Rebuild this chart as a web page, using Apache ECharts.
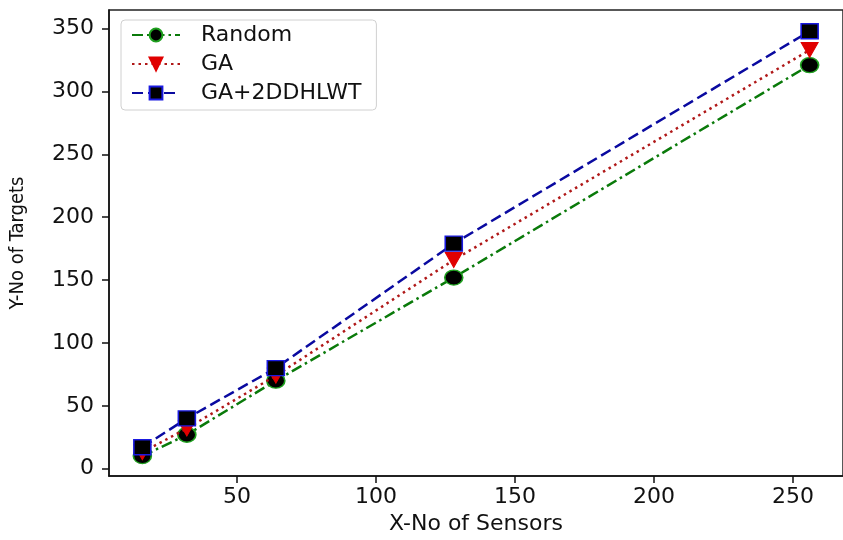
<!DOCTYPE html>
<html>
<head>
<meta charset="utf-8">
<script src="https://cdn.jsdelivr.net/npm/echarts@6/dist/echarts.min.js"></script>
<style>html,body{margin:0;padding:0;background:#fff}#c{width:843px;height:540px}</style>
</head>
<body>
<div id="c"></div>
<script>
var sensors = [16, 32, 64, 128, 256];
var randomVals = [10, 27, 70, 152, 321];
var gaVals = [13, 32, 74, 166, 333];
var gaHlwtVals = [17, 40, 80, 179, 348];
var xTicks = [50, 100, 150, 200, 250];
var yTicks = [0, 50, 100, 150, 200, 250, 300, 350];

function pairs(v) { return sensors.map(function (x, i) { return [x, v[i]]; }); }

var chart = echarts.init(document.getElementById('c'));
var font = 'DejaVu Sans';
chart.setOption({
  animation: false,
  grid: { left: 109, right: 0, top: 10, bottom: 61, show: true, borderColor: '#222', borderWidth: 1.5 },
  legend: {
    left: 121, top: 20, orient: 'vertical',
    padding: [4, 15, 6, 10],
    itemWidth: 48, itemHeight: 16, itemGap: 7,
    backgroundColor: '#fff', borderColor: '#d0d0d0', borderWidth: 1, borderRadius: 4,
    textStyle: { fontFamily: font, fontSize: 22, color: '#111', padding: [0, 0, 0, 16] },
    data: ['Random', 'GA', 'GA+2DDHLWT']
  },
  xAxis: {
    type: 'value', min: 4, max: 268,
    name: 'X-No of Sensors', nameLocation: 'middle', nameGap: 37,
    nameTextStyle: { fontFamily: font, fontSize: 22, color: '#111' },
    axisLine: { show: true, onZero: false, lineStyle: { color: '#111', width: 1.5 } },
    axisTick: { show: true, length: 7, lineStyle: { color: '#111', width: 1.5 }, customValues: xTicks },
    axisLabel: { fontFamily: font, fontSize: 22, color: '#111', margin: 10, customValues: xTicks },
    splitLine: { show: false }
  },
  yAxis: {
    type: 'value', min: -5.85, max: 364.85,
    name: 'Y-No of Targets', nameLocation: 'middle', nameGap: 81, nameRotate: 90,
    nameTextStyle: { fontFamily: 'DejaVu Sans Condensed', fontSize: 20, color: '#111' },
    axisLine: { show: true, onZero: false, lineStyle: { color: '#111', width: 1.5 } },
    axisTick: { show: true, length: 7, lineStyle: { color: '#111', width: 1.5 }, customValues: yTicks },
    axisLabel: { fontFamily: font, fontSize: 22, color: '#111', margin: 15, customValues: yTicks },
    splitLine: { show: false }
  },
  series: [
    {
      name: 'Random', type: 'line', data: pairs(randomVals),
      symbol: 'circle', symbolSize: [18, 15],
      lineStyle: { color: '#0a7a0a', width: 2.5, type: [11, 4, 2.5, 4] },
      itemStyle: { color: '#000', borderColor: '#1fa01f', borderWidth: 1.5 },
      z: 3
    },
    {
      name: 'GA', type: 'line', data: pairs(gaVals),
      symbol: 'triangle', symbolRotate: 180, symbolSize: [17, 15],
      lineStyle: { color: '#b01818', width: 2.5, type: [2.5, 4] },
      itemStyle: { color: '#e00000', borderColor: '#e00000', borderWidth: 1 },
      z: 4
    },
    {
      name: 'GA+2DDHLWT', type: 'line', data: pairs(gaHlwtVals),
      symbol: 'rect', symbolSize: [17, 15],
      lineStyle: { color: '#0a0aa0', width: 2.5, type: [11, 5] },
      itemStyle: { color: '#000', borderColor: '#1a1ae0', borderWidth: 1.5 },
      z: 5
    }
  ]
});
</script>
</body>
</html>
